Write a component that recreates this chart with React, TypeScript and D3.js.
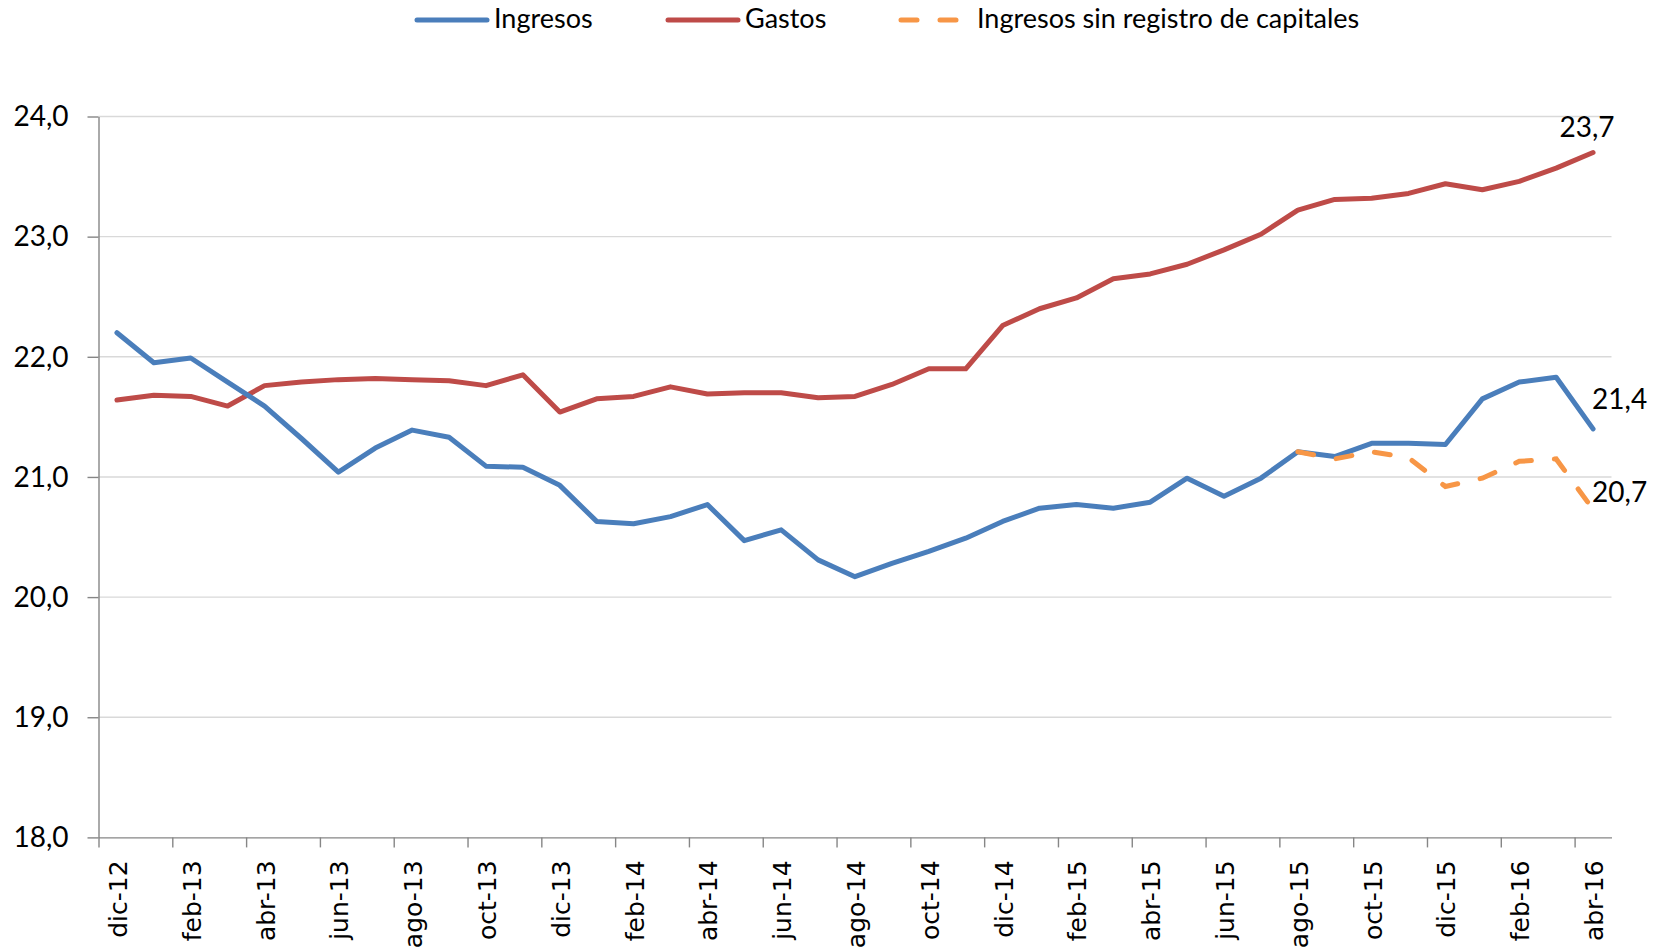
import React, { useEffect, useRef } from "react";
import * as d3 from "d3";

// Ingresos y gastos (% PIB), dic-12 a abr-16
const months = [
  "dic-12",
  "ene-13", "feb-13", "mar-13", "abr-13", "may-13", "jun-13", "jul-13", "ago-13", "sep-13", "oct-13", "nov-13", "dic-13",
  "ene-14", "feb-14", "mar-14", "abr-14", "may-14", "jun-14", "jul-14", "ago-14", "sep-14", "oct-14", "nov-14", "dic-14",
  "ene-15", "feb-15", "mar-15", "abr-15", "may-15", "jun-15", "jul-15", "ago-15", "sep-15", "oct-15", "nov-15", "dic-15",
  "ene-16", "feb-16", "mar-16", "abr-16",
];

const ingresos = [
  22.2, 21.95, 21.99, 21.79, 21.59, 21.32, 21.04, 21.24, 21.39, 21.33, 21.09, 21.08, 20.93,
  20.63, 20.61, 20.67, 20.77, 20.47, 20.56, 20.31, 20.17, 20.28, 20.38, 20.49, 20.63,
  20.74, 20.77, 20.74, 20.79, 20.99, 20.84, 20.99, 21.21, 21.17, 21.28, 21.28, 21.27,
  21.65, 21.79, 21.83, 21.4,
];

const gastos = [
  21.64, 21.68, 21.67, 21.59, 21.76, 21.79, 21.81, 21.82, 21.81, 21.8, 21.76, 21.85, 21.54,
  21.65, 21.67, 21.75, 21.69, 21.7, 21.7, 21.66, 21.67, 21.77, 21.9, 21.9, 22.26,
  22.4, 22.49, 22.65, 22.69, 22.77, 22.89, 23.02, 23.22, 23.31, 23.32, 23.36, 23.44,
  23.39, 23.46, 23.57, 23.7,
];

// serie solo desde ago-15
const sinCapitales = [
  null, null, null, null, null, null, null, null, null, null, null, null, null,
  null, null, null, null, null, null, null, null, null, null, null, null,
  null, null, null, null, null, null, null, 21.21, 21.15, 21.21, 21.16, 20.92,
  20.99, 21.13, 21.15, 20.73,
];

const yTicks = [18, 19, 20, 21, 22, 23, 24];

const BLUE = "#4a7ebb";
const RED = "#be4b48";
const ORANGE = "#f79646";
const DASH = "16 23";

export default function App() {
  const ref = useRef(null);

  useEffect(() => {
    const svg = d3.select(ref.current);
    svg.selectAll("*").remove();

    const width = 1660;
    const height = 950;
    const left = 98.5, right = 1611.5, top = 116.5, bottom = 837.4;

    svg.attr("width", width).attr("height", height);

    const x = d3.scaleLinear().domain([0, months.length]).range([left, right]);
    const y = d3.scaleLinear().domain([18, 24]).range([bottom, top]);
    const cx = (i) => x(i + 0.5);
    const fmt = (v) => d3.format(".1f")(v).replace(".", ",");

    // gridlines
    svg.append("g")
      .selectAll("line")
      .data(yTicks.filter((t) => t > 18))
      .join("line")
      .attr("x1", left).attr("x2", right)
      .attr("y1", (d) => y(d)).attr("y2", (d) => y(d))
      .attr("stroke", "#d9d9d9").attr("stroke-width", 1.4);

    // y axis
    const yAxis = svg.append("g")
      .attr("transform", `translate(${left},0)`)
      .call(d3.axisLeft(y).tickValues(yTicks).tickSize(11).tickSizeOuter(0).tickPadding(19).tickFormat(fmt));
    yAxis.select(".domain").attr("stroke", "#868686").attr("stroke-width", 1.4);
    yAxis.selectAll(".tick line").attr("stroke", "#868686").attr("stroke-width", 1.4);
    yAxis.selectAll("text")
      .attr("fill", "#000").attr("font-family", "Lato, sans-serif").attr("font-size", 28).attr("dy", "0.33em");

    // x axis (ticks every 2 months)
    const tickIdx = d3.range(0, months.length + 1, 2);
    const xAxis = svg.append("g")
      .attr("transform", `translate(0,${bottom})`)
      .call(d3.axisBottom(x).tickValues(tickIdx).tickSize(10).tickSizeOuter(0).tickFormat(() => ""));
    xAxis.select(".domain").attr("stroke", "#868686").attr("stroke-width", 1.4);
    xAxis.selectAll(".tick line").attr("stroke", "#868686").attr("stroke-width", 1.4);

    svg.append("g")
      .selectAll("text")
      .data(months.filter((_, i) => i % 2 === 0))
      .join("text")
      .attr("transform", (d, k) => `translate(${cx(k * 2) + 10},${bottom + 23}) rotate(-90)`)
      .attr("text-anchor", "end")
      .attr("font-family", "'DejaVu Sans', sans-serif")
      .attr("font-size", 25)
      .attr("fill", "#000")
      .text((d) => d);

    // lines
    const line = d3.line()
      .defined((d) => d != null)
      .x((d, i) => cx(i))
      .y((d) => y(d));

    svg.append("path").datum(gastos).attr("d", line)
      .attr("fill", "none").attr("stroke", RED).attr("stroke-width", 5)
      .attr("stroke-linejoin", "round").attr("stroke-linecap", "round");
    svg.append("path").datum(ingresos).attr("d", line)
      .attr("fill", "none").attr("stroke", BLUE).attr("stroke-width", 5)
      .attr("stroke-linejoin", "round").attr("stroke-linecap", "round");
    svg.append("path").datum(sinCapitales).attr("d", line)
      .attr("fill", "none").attr("stroke", ORANGE).attr("stroke-width", 5)
      .attr("stroke-dasharray", DASH).attr("stroke-linecap", "round");

    // end labels
    const last = months.length - 1;
    const lbl = (txt, lx, ly, anchor) =>
      svg.append("text").attr("x", lx).attr("y", ly).attr("text-anchor", anchor)
        .attr("font-family", "Lato, sans-serif").attr("font-size", 28).attr("fill", "#000").text(txt);
    lbl(fmt(gastos[last]), cx(last) - 6, y(gastos[last]) - 16, "middle");
    lbl(fmt(ingresos[last]), cx(last) - 1, y(ingresos[last]) - 20, "start");
    lbl(fmt(sinCapitales[last]), cx(last) - 1, y(sinCapitales[last]) - 7, "start");

    // legend
    const legend = [
      { name: "Ingresos", color: BLUE, dash: null, x0: 417 },
      { name: "Gastos", color: RED, dash: null, x0: 668 },
      { name: "Ingresos sin registro de capitales", color: ORANGE, dash: DASH, x0: 901 },
    ];
    const lg = svg.append("g");
    legend.forEach((d) => {
      lg.append("line")
        .attr("x1", d.x0).attr("x2", d.x0 + 70).attr("y1", 20).attr("y2", 20)
        .attr("stroke", d.color).attr("stroke-width", 5).attr("stroke-linecap", "round")
        .attr("stroke-dasharray", d.dash);
      lg.append("text")
        .attr("x", d.x0 + (d.dash ? 76 : 77)).attr("y", 28)
        .attr("font-family", "Lato, sans-serif").attr("font-size", 27).attr("fill", "#000")
        .text(d.name);
    });
  }, []);

  return <svg ref={ref} style={{ position: "absolute", left: 0, top: 0, background: "#fff" }} />;
}
